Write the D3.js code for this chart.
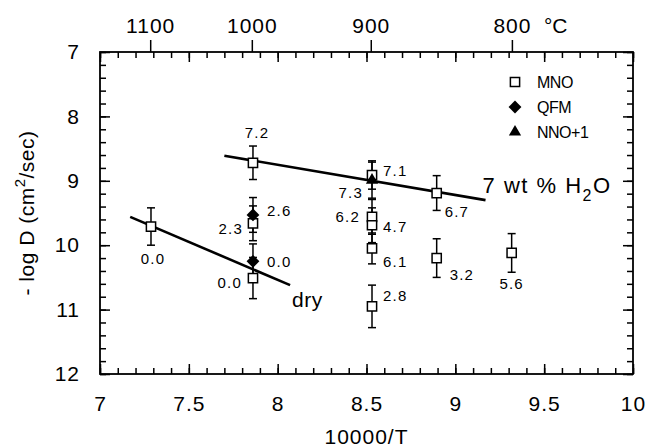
<!DOCTYPE html>
<html>
<head>
<meta charset="utf-8">
<script src="https://cdn.jsdelivr.net/npm/d3@7"></script>
<style>
  body { margin: 0; background: #fff; }
  svg { font-family: "Liberation Sans", Arial, sans-serif; }
</style>
</head>
<body>
<div id="chart"></div>
<script>
var w = 650;
var h = 448;
var margin = {top: 52, right: 17, bottom: 74, left: 100};

// MNO buffer (open squares)
var mnoX = [7.287, 7.861, 7.861, 7.861, 8.531, 8.531, 8.531, 8.531, 8.531, 8.895, 8.895, 9.317];
var mnoY = [9.71, 8.72, 9.66, 10.51, 8.91, 9.56, 9.69, 10.05, 10.95, 9.19, 10.20, 10.12];
var mnoErr = [0.29, 0.26, 0.27, 0.32, 0.22, 0.27, 0.27, 0.24, 0.33, 0.27, 0.30, 0.30];
var mnoH2O = ["0.0", "7.2", "2.3", "0.0", "7.1", "6.2", "4.7", "6.1", "2.8", "6.7", "3.2", "5.6"];

// QFM buffer (filled diamonds)
var qfmX = [7.861, 7.861];
var qfmY = [9.53, 10.25];
var qfmErr = [0.27, 0.27];
var qfmH2O = ["2.6", "0.0"];

// NNO+1 buffer (filled triangle)
var nnoX = [8.531];
var nnoY = [8.99];
var nnoErr = [0.28];
var nnoH2O = ["7.3"];

// fitted lines
var dryX = [7.17, 8.07];
var dryY = [9.56, 10.62];
var wetX = [7.70, 9.17];
var wetY = [8.61, 9.30];

// axis ticks
var xTicks = [7, 7.5, 8, 8.5, 9, 9.5, 10];
var yTicks = [7, 8, 9, 10, 11, 12];
var tempC = [1100, 1000, 900, 800];

// where each label sits next to its point [dx, dy, anchor]
var mnoLabelPos = [[2, 32, "middle"], [4, -30, "middle"], [-10, 5, "end"], [-11, 5, "end"],
                   [11, -4, "start"], [-12, 0, "end"], [11, 1, "start"], [11, 13, "start"],
                   [11, -11, "start"], [8, 19, "start"], [13, 17, "start"], [0, 31, "middle"]];
var qfmLabelPos = [[14, -4, "start"], [14, 0, "start"]];
var nnoLabelPos = [[-9, 12, "end"]];

var svg = d3.select("#chart")
            .append("svg")
            .attr("width", w)
            .attr("height", h);

var xScale = d3.scaleLinear()
        .domain([7, 10])
        .range([margin.left, w - margin.right]);

var yScale = d3.scaleLinear()
        .domain([7, 12])
        .range([margin.top, h - margin.bottom]);

var x0 = margin.left, x1 = w - margin.right;
var y0 = margin.top, y1 = h - margin.bottom;

var minorX = d3.range(70, 101).map(function(d) { return d / 10; });
var minorY = d3.range(35, 61).map(function(d) { return d / 5; });

function styleAxis(g) {
    g.select(".domain").remove();
    g.selectAll("line").attr("stroke", "#000").attr("stroke-width", 1.5);
    g.selectAll("text").attr("font-size", 21).attr("letter-spacing", 1).attr("fill", "#000");
}

// bottom axis: minor + major ticks pointing inward
svg.append("g")
    .attr("transform", "translate(0," + y1 + ")")
    .call(d3.axisBottom(xScale).tickValues(minorX).tickSize(-6).tickFormat(""))
    .call(styleAxis);
svg.append("g")
    .attr("transform", "translate(0," + y1 + ")")
    .call(d3.axisBottom(xScale).tickValues(xTicks).tickSize(-10).tickPadding(22)
          .tickFormat(d3.format("")))
    .call(styleAxis);

// top frame mirrors bottom ticks
svg.append("g")
    .attr("transform", "translate(0," + y0 + ")")
    .call(d3.axisTop(xScale).tickValues(minorX).tickSize(-6).tickFormat(""))
    .call(styleAxis);
svg.append("g")
    .attr("transform", "translate(0," + y0 + ")")
    .call(d3.axisTop(xScale).tickValues(xTicks).tickSize(-10).tickFormat(""))
    .call(styleAxis);

// temperature axis on top
var tempPos = tempC.map(function(t) { return 10000 / (t + 273.15); });
svg.append("g")
    .attr("transform", "translate(0," + y0 + ")")
    .call(d3.axisTop(xScale).tickValues(tempPos).tickSize(12).tickPadding(7)
          .tickFormat(function(d, i) { return tempC[i]; }))
    .call(styleAxis);

svg.append("text")
    .attr("x", xScale(tempPos[3]) + 32)
    .attr("y", y0 - 19)
    .attr("font-size", 21)
    .text("°C");

// left axis
svg.append("g")
    .attr("transform", "translate(" + x0 + ",0)")
    .call(d3.axisLeft(yScale).tickValues(minorY).tickSize(-6).tickFormat(""))
    .call(styleAxis);
svg.append("g")
    .attr("transform", "translate(" + x0 + ",0)")
    .call(d3.axisLeft(yScale).tickValues(yTicks).tickSize(-10).tickPadding(20)
          .tickFormat(d3.format("")))
    .call(styleAxis);

// right axis mirrors left
svg.append("g")
    .attr("transform", "translate(" + x1 + ",0)")
    .call(d3.axisRight(yScale).tickValues(minorY).tickSize(-6).tickFormat(""))
    .call(styleAxis);
svg.append("g")
    .attr("transform", "translate(" + x1 + ",0)")
    .call(d3.axisRight(yScale).tickValues(yTicks).tickSize(-10).tickFormat(""))
    .call(styleAxis);

// frame
svg.append("rect")
    .attr("x", x0).attr("y", y0)
    .attr("width", x1 - x0).attr("height", y1 - y0)
    .attr("fill", "none")
    .attr("stroke", "#000")
    .attr("stroke-width", 1.8);

// axis titles
svg.append("text")
    .attr("x", (x0 + x1) / 2)
    .attr("y", h - 4)
    .attr("text-anchor", "middle")
    .attr("font-size", 21)
    .attr("letter-spacing", 1)
    .text("10000/T");

var yTitle = svg.append("text")
    .attr("transform", "translate(34," + ((y0 + y1) / 2) + ") rotate(-90)")
    .attr("text-anchor", "middle")
    .attr("font-size", 21)
    .attr("letter-spacing", 0.5);
yTitle.append("tspan").text("- log D (cm");
yTitle.append("tspan").attr("font-size", 15).attr("dy", -9).text("2");
yTitle.append("tspan").attr("dy", 9).text("/sec)");

// fitted lines
var line = d3.line()
    .x(function(d) { return xScale(d[0]); })
    .y(function(d) { return yScale(d[1]); });

svg.append("path")
    .datum(d3.zip(dryX, dryY))
    .attr("d", line)
    .attr("fill", "none")
    .attr("stroke", "#000")
    .attr("stroke-width", 2.6);
svg.append("path")
    .datum(d3.zip(wetX, wetY))
    .attr("d", line)
    .attr("fill", "none")
    .attr("stroke", "#000")
    .attr("stroke-width", 2.6);

// line labels
svg.append("text")
    .attr("x", xScale(dryX[1]) + 2)
    .attr("y", yScale(dryY[1]) + 22)
    .attr("font-size", 21)
    .attr("letter-spacing", 0.5)
    .text("dry");

var wetLabel = svg.append("text")
    .attr("x", xScale(wetX[1]) - 3)
    .attr("y", yScale(wetY[1]) - 7)
    .attr("font-size", 22)
    .attr("letter-spacing", 1.5);
wetLabel.append("tspan").text("7 wt % H");
wetLabel.append("tspan").attr("font-size", 16).attr("dy", 8).text("2");
wetLabel.append("tspan").attr("dy", -8).text("O");

// error bars
function errorBars(xs, ys, errs) {
    var cap = 4;
    var g = svg.append("g").attr("stroke", "#000").attr("stroke-width", 1.5);
    xs.forEach(function(xv, i) {
        var cx = xScale(xv);
        var top = yScale(ys[i] - errs[i]);
        var bot = yScale(ys[i] + errs[i]);
        g.append("line").attr("x1", cx).attr("x2", cx).attr("y1", top).attr("y2", bot);
        g.append("line").attr("x1", cx - cap).attr("x2", cx + cap).attr("y1", top).attr("y2", top);
        g.append("line").attr("x1", cx - cap).attr("x2", cx + cap).attr("y1", bot).attr("y2", bot);
    });
}
errorBars(mnoX, mnoY, mnoErr);
errorBars(qfmX, qfmY, qfmErr);
errorBars(nnoX, nnoY, nnoErr);

var squareSym = d3.symbol().type(d3.symbolSquare).size(85);
var diamondSym = d3.symbol().type(d3.symbolDiamond2).size(105);
var triangleSym = d3.symbol().type(d3.symbolTriangle).size(65);

// markers
svg.selectAll(".mno")
    .data(mnoX)
    .enter()
    .append("path")
    .attr("class", "mno")
    .attr("d", squareSym)
    .attr("transform", function(d, i) { return "translate(" + xScale(d) + "," + yScale(mnoY[i]) + ")"; })
    .attr("fill", "#fff")
    .attr("stroke", "#000")
    .attr("stroke-width", 1.5);

svg.selectAll(".qfm")
    .data(qfmX)
    .enter()
    .append("path")
    .attr("class", "qfm")
    .attr("d", diamondSym)
    .attr("transform", function(d, i) { return "translate(" + xScale(d) + "," + yScale(qfmY[i]) + ")"; })
    .attr("fill", "#000");

svg.selectAll(".nno")
    .data(nnoX)
    .enter()
    .append("path")
    .attr("class", "nno")
    .attr("d", triangleSym)
    .attr("transform", function(d, i) { return "translate(" + xScale(d) + "," + yScale(nnoY[i]) + ")"; })
    .attr("fill", "#000");

// water content labels
function pointLabels(xs, ys, labels, pos) {
    svg.append("g")
        .selectAll("text")
        .data(labels)
        .enter()
        .append("text")
        .attr("x", function(d, i) { return xScale(xs[i]) + pos[i][0]; })
        .attr("y", function(d, i) { return yScale(ys[i]) + pos[i][1]; })
        .attr("dy", "0.36em")
        .attr("text-anchor", function(d, i) { return pos[i][2]; })
        .attr("font-size", 15)
        .attr("letter-spacing", 1.2)
        .text(function(d) { return d; });
}
pointLabels(mnoX, mnoY, mnoH2O, mnoLabelPos);
pointLabels(qfmX, qfmY, qfmH2O, qfmLabelPos);
pointLabels(nnoX, nnoY, nnoH2O, nnoLabelPos);

// legend
var legendNames = ["MNO", "QFM", "NNO+1"];
var legendSyms = [squareSym, diamondSym, triangleSym];
var legendFill = ["#fff", "#000", "#000"];
var legend = svg.append("g").attr("transform", "translate(515,82)");
legendNames.forEach(function(name, i) {
    legend.append("path")
        .attr("d", legendSyms[i])
        .attr("transform", "translate(0," + (i * 25) + ")")
        .attr("fill", legendFill[i])
        .attr("stroke", i === 0 ? "#000" : "none")
        .attr("stroke-width", 1.5);
    legend.append("text")
        .attr("x", 22)
        .attr("y", i * 25)
        .attr("dy", "0.36em")
        .attr("font-size", 16)
        .attr("letter-spacing", -0.5)
        .text(name);
});
</script>
</body>
</html>
